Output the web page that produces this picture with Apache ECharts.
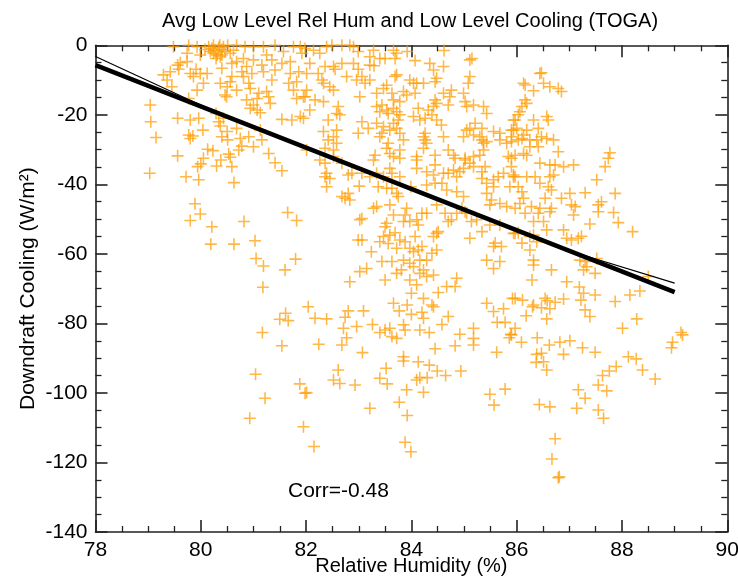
<!DOCTYPE html>
<html><head><meta charset="utf-8">
<script src="https://cdn.jsdelivr.net/npm/echarts@6/dist/echarts.min.js"></script>
<style>html,body{margin:0;padding:0;background:#fff}#c{width:738px;height:579px}</style>
</head><body><div id="c"></div>
<script>
const titleText = 'Avg Low Level Rel Hum and Low Level Cooling (TOGA)';
const xName = 'Relative Humidity (%)';
const yName = 'Downdraft Cooling (W/m\u00B2)';
const corrLabel = 'Corr=-0.48';

// [relative humidity %, downdraft cooling W/m2]
const points = [
[79.04,-17.2],[79.05,-22.0],[79.15,-26.5],[79.03,-36.8],[79.56,-21.0],[79.56,-31.8],[79.8,-21.5],[79.96,-21.0],[80.04,-24.4],[79.77,-25.8],[79.85,-26.1],[79.8,-26.8],[79.72,-37.8],[79.96,-38.7],[79.94,-34.9],[80.0,-34.1],[80.05,-32.5],[80.13,-29.9],[80.23,-30.3],[80.3,-34.7],[80.38,-33.0],[80.53,-31.3],[80.56,-32.2],[80.59,-34.9],[80.63,-39.5],[80.51,-27.2],[80.4,-26.3],[80.5,-24.8],[80.37,-23.2],[80.34,-22.0],[80.43,-21.0],[80.29,-19.6],[80.46,-14.3],[80.49,-14.8],[80.68,-23.9],[80.75,-26.8],[80.78,-29.0],[80.72,-30.1],[80.91,-26.3],[81.0,-29.2],[81.16,-27.2],[81.13,-24.4],[81.29,-31.1],[81.41,-33.8],[81.54,-36.1],[81.0,-17.2],[81.07,-18.6],[81.13,-19.4],[80.87,-15.7],[80.94,-18.1],[81.32,-16.7],[81.29,-14.8],[81.25,-13.3],[81.54,-21.3],[81.73,-21.5],[81.89,-20.5],[81.82,-15.3],[81.95,-14.8],[81.76,-12.9],[81.67,-10.9],[81.35,-10.0],[81.19,-7.6],[81.41,-7.1],[81.54,-5.2],[81.7,-4.7],[81.86,-7.6],[81.92,-2.3],[81.57,-1.8],[79.93,-12.9],[79.77,-15.3],[79.45,-11.9],[79.36,-10.0],[79.29,-8.5],[79.42,-7.6],[79.56,-5.7],[79.61,-5.0],[79.74,-4.7],[79.58,-6.9],[79.8,-8.1],[79.91,-6.9],[79.99,-8.1],[79.86,-9.0],[80.05,-10.9],[80.12,-8.1],[80.37,-10.9],[80.5,-11.9],[80.56,-10.5],[80.68,-12.9],[80.4,-6.6],[80.59,-5.2],[80.68,-4.7],[80.81,-3.8],[80.87,-6.1],[80.97,-8.1],[80.81,-9.0],[80.91,-10.9],[80.94,-12.4],[81.1,-13.8],[81.07,-15.3],[81.0,-4.2],[81.16,-5.7],[81.25,-2.8],[81.35,-4.2],[81.7,-8.1],[81.82,-10.5],[79.48,-0.4],[79.77,0],[79.93,-0.4],[79.99,-2.8],[79.74,-2.3],
[80.15,-0.4],[80.21,-0.9],[80.27,-1.4],[80.34,-0.6],[80.4,-1.2],[80.46,-1.8],[80.24,-2.3],[80.31,-2.8],[80.37,-3.3],[80.18,-1.8],[80.43,-0.4],[80.51,0],[80.08,-1.2],[80.29,-3.8],[80.4,-2.8],[80.36,0],[80.24,0],[80.56,-2.3],[80.62,-1.4],
[80.68,0],[80.84,-0.4],[81.0,-0.4],[81.19,-0.4],[81.41,0],[81.76,-0.4],[81.89,-0.4],[80.59,-9.0],[80.78,-7.6],
[79.89,-45.6],[79.99,-48.5],[79.8,-50.4],[80.21,-52.2],[80.19,-57.2],[80.63,-57.2],[80.82,-50.7],[81.03,-56.2],[81.05,-61.3],[81.19,-63.5],[81.18,-69.6],[81.6,-64.6],[81.8,-61.5],[81.65,-48.1],[81.82,-50.4],
[81.61,-77.1],[81.5,-78.8],[81.66,-79.2],[81.17,-82.6],[81.54,-86.4],[81.04,-94.6],[81.88,-97.4],[81.98,-100.1],[82.01,-99.9],[81.22,-101.5],[80.93,-107.3],[81.95,-109.7],[82.15,-115.4],
[81.98,-0.9],[82.14,-1.4],[82.26,-2.3],[82.39,-0.4],[82.49,0],[82.68,0],[82.83,0],[82.9,-0.4],[82.99,-1.8],[83.28,-1.4],[83.66,-1.4],[83.72,-2.3],[83.69,-3.8],[83.4,-3.8],[83.21,-3.3],[83.92,-1.8],[84.62,-1.5],[85.15,-3.8],[85.11,-4.2],
[82.07,-5.2],[82.01,-8.1],[82.23,-8.1],[82.36,-6.1],[82.52,-6.1],[82.68,-5.2],[82.55,-6.9],[82.9,-5.2],[82.99,-6.9],[83.06,-9.0],[83.21,-5.7],[83.29,-5.9],[82.3,-10.0],[82.45,-11.9],[82.52,-12.9],[82.33,-10.9],[82.77,-9.0],[82.96,-10.0],[83.12,-10.9],[83.21,-10.0],[83.5,-3.8],[83.72,-8.5],[83.69,-9.0],[84.07,-4.4],[83.97,-10.0],[84.04,-10.9],[84.1,-10.9],[84.35,-5.2],[84.42,-7.1],[84.48,-9.5],[84.61,-6.1],[84.45,-10.5],[84.23,-10.9],[83.53,-11.5],[83.63,-13.8],[83.47,-12.4],[83.85,-13.3],[84.07,-13.8],[83.91,-14.3],[83.34,-13.8],[83.66,-15.7],[83.78,-16.2],[84.76,-12.9],[84.61,-13.8],[84.73,-14.8],[84.99,-13.8],[85.11,-9.0],[85.08,-10.9],[85.02,-16.2],[85.05,-17.6],[85.18,-17.2],[85.37,-17.6],[85.43,-19.6],[84.45,-15.7],[84.48,-16.7],[84.42,-17.6],[84.32,-18.6],[84.26,-21.0],[84.39,-20.0],[84.48,-21.5],[84.7,-17.2],[84.13,-18.1],[84.04,-20.5],[84.16,-21.5],[84.57,-22.9],[84.61,-26.3],[84.7,-30.1],[84.8,-31.6],[84.83,-32.5],
[82.01,-12.9],[81.98,-14.8],[82.17,-15.7],[82.33,-16.2],[82.07,-18.6],[81.95,-21.0],[82.42,-21.5],[82.58,-19.6],[82.61,-17.6],[82.64,-20.0],[83.02,-14.8],[83.34,-17.6],[83.44,-17.2],[83.53,-18.6],[83.66,-18.1],[83.72,-19.1],[83.78,-20.0],[83.75,-21.5],[83.66,-22.4],[83.56,-19.6],[83.4,-19.1],[83.06,-22.0],[83.18,-23.9],[83.34,-22.4],[83.47,-23.4],[83.59,-24.4],[83.72,-23.9],[83.78,-25.3],[83.4,-26.3],[83.44,-25.3],[82.99,-25.3],[82.58,-24.4],[82.33,-24.8],[82.52,-26.3],[82.42,-27.2],[82.58,-28.2],[82.52,-30.1],[82.36,-29.6],[82.26,-33.0],[82.36,-33.9],[82.52,-32.0],[82.36,-37.8],[82.45,-38.3],[82.39,-36.8],[82.01,-30.1],[82.68,-33.9],[82.8,-37.3],[82.87,-36.8],[83.01,-40.5],[83.06,-36.8],[83.21,-37.8],[83.34,-36.8],[83.47,-37.8],[83.59,-35.4],[83.63,-36.8],[83.78,-37.8],[83.31,-31.6],[83.28,-33.0],[83.56,-28.2],[83.53,-29.6],[83.59,-31.1],[83.66,-32.0],[83.78,-30.1],[83.85,-27.2],[83.78,-32.5],[84.1,-32.0],[84.1,-33.0],[84.23,-29.6],[84.26,-27.2],[84.26,-25.3],[84.23,-26.3],[84.29,-28.2],[84.45,-31.6],[84.45,-34.4],[84.1,-35.4],[84.29,-36.4],[84.42,-37.3],[84.61,-36.8],[84.58,-39.7],[84.7,-36.8],[84.8,-35.9],[84.92,-36.4],[84.99,-35.4],[85.02,-33.0],[85.11,-33.9],[85.18,-34.9],[85.18,-32.0],[85.3,-31.6],[85.37,-30.1],[85.37,-28.2],[85.34,-27.2],[85.43,-27.7],[85.56,-24.8],[85.68,-25.3],[85.68,-27.2],[85.81,-28.2],[85.9,-26.3],[85.94,-21.5],[85.9,-24.4],[85.84,-32.0],[85.9,-34.9],[85.75,-36.8],[85.65,-37.8],[85.56,-38.7],[85.4,-34.9],[85.34,-36.4],[85.34,-38.3],[85.43,-39.7],[85.56,-40.7],[85.43,-42.6],[85.52,-44.5],[85.49,-45.9],[85.68,-45.5],[85.81,-46.4],[85.87,-40.7],[85.94,-37.8],[85.05,-24.4],[84.99,-26.3],[85.11,-23.9],[85.21,-22.4],[85.34,-23.9],[85.18,-25.8],[85.3,-26.3],[85.02,-32.5],[84.86,-37.8],[84.67,-41.6],[84.86,-42.1],[84.99,-43.5],[85.02,-47.9],[85.05,-48.3],[84.86,-48.3],[84.76,-50.2],[84.7,-50.7],[84.64,-48.3],[84.48,-45.9],[84.29,-48.3],[84.2,-48.3],[84.1,-50.2],[84.13,-51.7],[83.97,-50.7],[83.91,-46.9],[83.88,-48.8],[83.85,-50.7],[83.59,-45.9],[83.66,-48.8],[83.72,-42.6],[83.75,-43.5],[83.53,-41.1],[83.34,-46.4],[83.28,-46.9],[83.02,-50.2],[82.8,-42.6],[82.68,-43.5],[82.74,-44.0],[82.83,-44.5],[82.39,-40.7],[83.37,-40.7],[83.63,-41.1],[83.99,-40.7],[84.29,-40.2],[84.45,-39.7],[83.5,-52.2],[83.53,-51.2],[83.47,-55.0],[83.59,-54.6],[83.69,-53.9],[83.4,-56.5],[83.56,-57.0],[83.78,-56.0],[83.88,-56.5],[83.72,-58.4],[83.97,-58.4],[84.04,-59.4],[84.13,-58.9],[84.07,-55.0],[84.2,-57.9],[84.48,-54.1],[84.42,-55.0],[84.51,-53.6],[84.48,-58.9],[84.39,-59.8],[84.29,-61.8],[84.16,-61.8],[84.04,-63.7],[83.97,-62.7],[83.85,-61.8],[83.81,-64.6],[83.72,-65.6],[83.63,-62.2],[83.44,-62.2],[83.24,-59.4],[83.06,-56.0],[82.99,-56.0],[83.15,-64.2],[83.02,-65.1],[82.83,-68.0],[83.5,-67.5],[83.97,-67.5],[84.1,-68.9],[84.16,-65.6],[84.23,-64.6],[84.29,-66.5],[84.42,-66.1],[84.67,-69.4],[84.86,-67.0],[84.83,-69.4],[85.11,-55.5],[85.34,-53.6],[85.49,-51.7],[85.68,-51.7],[85.56,-57.9],[85.59,-56.9],[85.71,-57.9],[85.43,-61.8],[85.56,-64.2],[85.68,-62.2],[85.94,-54.1],[84.96,-46.9],[85.14,-50.7],[85.24,-50.2],[83.06,-49.8],
[86.47,-7.9],[86.44,-8.1],[86.13,-10.9],[86.16,-11.4],[86.51,-10.9],[86.63,-11.9],[86.79,-12.4],[86.85,-13.3],[86.32,-13.1],[86.16,-15.7],[86.19,-16.7],[86.1,-17.6],[86.06,-19.1],[86.03,-20.0],[85.97,-21.5],[86.0,-23.9],[85.94,-24.4],[86.13,-25.8],[86.1,-26.8],[86.03,-27.2],[85.9,-27.7],[86.25,-27.2],[86.19,-24.4],[86.32,-21.5],[86.57,-20.5],[86.6,-21.5],[86.41,-23.9],[86.47,-26.3],[86.41,-29.2],[86.38,-27.2],[86.57,-26.8],[86.7,-27.2],[86.79,-30.6],[86.25,-29.2],[86.13,-31.1],[86.19,-31.6],[85.97,-31.6],[85.9,-32.5],[86.44,-33.9],[86.63,-34.4],[86.73,-34.4],[86.89,-34.9],[87.08,-34.4],[85.94,-37.3],[85.97,-37.8],[86.19,-37.8],[86.35,-37.8],[86.44,-39.7],[86.63,-37.8],[86.7,-37.3],[86.6,-40.7],[86.66,-41.6],[86.03,-40.7],[86.1,-42.1],[86.13,-44.0],[86.06,-45.5],[86.54,-44.0],[86.85,-44.0],[87.01,-42.6],[87.3,-42.4],[87.04,-45.9],[87.11,-46.4],[87.08,-48.8],[87.52,-38.7],[87.77,-30.9],[87.74,-32.5],[87.68,-34.9],[87.87,-42.6],[87.61,-45.0],[87.55,-45.9],[87.55,-47.9],[87.84,-48.1],[87.93,-51.0],[87.39,-51.4],[88.2,-53.6],[85.97,-46.9],[86.16,-48.3],[86.28,-46.4],[86.44,-46.9],[86.41,-48.3],[86.66,-46.9],[86.63,-47.9],[86.32,-50.7],[86.51,-50.7],[85.97,-54.1],[86.03,-53.9],[86.1,-56.9],[86.25,-55.0],[86.32,-54.6],[86.38,-56.5],[86.25,-58.9],[86.57,-53.1],[86.89,-53.1],[86.95,-55.5],[87.04,-56.0],[87.17,-55.5],[87.23,-54.9],[86.32,-61.8],[86.32,-63.2],[86.66,-64.6],[87.2,-61.8],[87.3,-62.2],[87.33,-63.7],[87.27,-64.6],[87.49,-65.6],[86.29,-67.5],[86.95,-68.0],[88.5,-66.5],[87.52,-61.3],
[82.04,-75.2],[82.17,-78.5],[82.39,-78.7],[82.74,-78.2],[82.8,-76.4],[83.09,-76.4],[82.71,-81.4],[82.77,-84.1],[82.68,-86.2],[82.96,-80.9],[83.26,-80.3],[83.4,-82.6],[83.5,-81.9],[83.59,-81.4],[83.63,-83.8],[83.72,-84.3],[83.85,-80.4],[83.88,-81.9],[83.66,-74.2],[83.77,-76.4],[83.92,-74.7],[84.0,-77.4],[84.0,-71.3],[84.2,-76.8],[84.23,-72.8],[84.23,-78.5],[84.42,-75.2],[84.39,-74.7],[84.51,-71.1],[84.7,-78.0],[84.16,-81.9],[84.34,-82.6],[84.58,-80.3],[84.92,-83.1],[84.83,-86.4],[84.45,-87.3],[85.18,-81.4],[85.18,-84.3],[85.18,-86.2],[85.43,-74.2],[85.56,-76.6],[85.75,-75.8],[85.63,-79.7],[85.78,-79.7],[85.92,-72.8],[85.86,-84.1],[85.89,-83.1],[85.62,-88.3],[82.24,-86.0],[83.07,-88.4],[83.52,-92.9],[83.4,-95.8],[83.54,-97.4],[83.85,-89.6],[83.85,-90.8],[84.13,-91.0],[84.34,-92.0],[84.49,-93.7],[84.65,-95.0],[84.94,-93.7],[84.1,-96.3],[84.16,-95.6],[84.3,-95.6],[83.91,-99.1],[84.23,-99.8],[83.77,-102.7],[83.92,-106.5],[83.21,-104.4],[82.52,-96.3],[82.64,-97.3],[82.61,-93.4],[82.93,-97.7],[83.88,-114.2],[83.99,-116.9],[85.49,-100.4],[85.57,-103.5],[85.78,-98.9],
[85.97,-72.8],[86.11,-73.3],[86.32,-74.7],[86.3,-75.2],[86.47,-75.5],[86.54,-72.8],[86.58,-73.5],[86.63,-75.8],[86.73,-73.9],[86.89,-73.0],[86.57,-78.7],[86.18,-77.8],[85.97,-81.4],[85.9,-83.3],[86.09,-85.4],[86.39,-84.1],[86.62,-86.2],[86.82,-85.4],[87.01,-85.0],[86.89,-88.9],[86.38,-88.9],[86.47,-88.6],[86.37,-91.2],[86.51,-91.0],[86.57,-93.4],[87.19,-69.5],[87.22,-73.3],[87.27,-71.3],[87.3,-76.1],[87.39,-78.0],[87.49,-71.8],[87.25,-87.0],[87.49,-88.3],[87.87,-73.7],[88.15,-71.8],[88.34,-70.7],[88.28,-78.7],[88.01,-81.4],[88.12,-89.6],[88.27,-90.2],[88.39,-93.4],[87.89,-92.4],[87.76,-93.7],[87.63,-95.0],[87.55,-97.7],[87.71,-99.4],[87.17,-99.1],[87.3,-101.5],[87.14,-104.4],[87.55,-104.9],[87.65,-107.3],[88.63,-96.0],[88.96,-85.4],[88.94,-87.0],[89.12,-82.6],[89.15,-83.3],[86.43,-103.3],[86.63,-104.0],[86.73,-113.2],[86.67,-119.0],[86.81,-124.1],[86.79,-124.4]
];

// regression fit (thick) and second fit (thin)
const fitThickX = [78, 89];
const fitThickY = [-5.7, -71.0];
const fitThinX = [78, 80.2, 87.1, 89];
const fitThinY = [-3.2, -18.6, -59.6, -68.4];

const xMin = 78, xMax = 90, xStep = 2;
const yMin = -140, yMax = 0, yStep = 20;

const FONT = '"Liberation Sans", Arial, Helvetica, sans-serif';
const AX = '#222';
const plus = 'path://M4.35,0H5.65V4.35H10V5.65H5.65V10H4.35V5.65H0V4.35H4.35Z';

function axisCommon(show) {
  return {
    axisLine: { show: true, onZero: false, lineStyle: { color: AX, width: 1.6 } },
    axisTick: { show: true, inside: true, length: 12, lineStyle: { color: AX, width: 1.6 } },
    minorTick: { show: true, splitNumber: 4, length: 6, lineStyle: { color: AX, width: 1.3 } },
    splitLine: { show: false },
    axisLabel: { show: show, color: '#000', fontSize: 21, fontFamily: FONT }
  };
}

const chart = echarts.init(document.getElementById('c'), null, { renderer: 'canvas' });
chart.setOption({
  animation: false,
  backgroundColor: '#fff',
  title: {
    text: titleText, left: 405, top: 6, textAlign: 'center',
    textStyle: { fontSize: 20, fontWeight: 'normal', color: '#000', fontFamily: FONT }
  },
  grid: { left: 95.5, right: 10.7, top: 45.3, bottom: 47, containLabel: false, outerBoundsMode: 'none' },
  xAxis: [
    Object.assign(axisCommon(true), {
      type: 'value', position: 'bottom', min: xMin, max: xMax, interval: xStep,
      name: xName, nameLocation: 'middle', nameGap: 24, nameMoveOverlap: false,
      nameTextStyle: { fontSize: 20, color: '#000', fontFamily: FONT, verticalAlign: 'top' }
    }),
    Object.assign(axisCommon(false), {
      type: 'value', position: 'top', min: xMin, max: xMax, interval: xStep
    })
  ],
  yAxis: [
    Object.assign(axisCommon(true), {
      type: 'value', position: 'left', min: yMin, max: yMax, interval: yStep,
      name: yName, nameLocation: 'middle', nameGap: 57, nameMoveOverlap: false,
      nameTextStyle: { fontSize: 21, color: '#000', fontFamily: FONT, verticalAlign: 'bottom' }
    }),
    Object.assign(axisCommon(false), {
      type: 'value', position: 'right', min: yMin, max: yMax, interval: yStep
    })
  ],
  graphic: [{
    type: 'text', left: 288, top: 481,
    style: { text: corrLabel, fill: '#000', font: '21px ' + FONT }
  }],
  series: [
    {
      type: 'scatter', data: points, symbol: plus, symbolSize: 12,
      itemStyle: { color: 'rgba(255,155,0,0.9)' }, clip: false, z: 2
    },
    {
      type: 'line', data: fitThinX.map((x, i) => [x, fitThinY[i]]), showSymbol: false,
      lineStyle: { color: '#000', width: 1.2 }, z: 3
    },
    {
      type: 'line', data: fitThickX.map((x, i) => [x, fitThickY[i]]), showSymbol: false,
      lineStyle: { color: '#000', width: 4.5 }, z: 4
    }
  ]
});
</script>
</body></html>
